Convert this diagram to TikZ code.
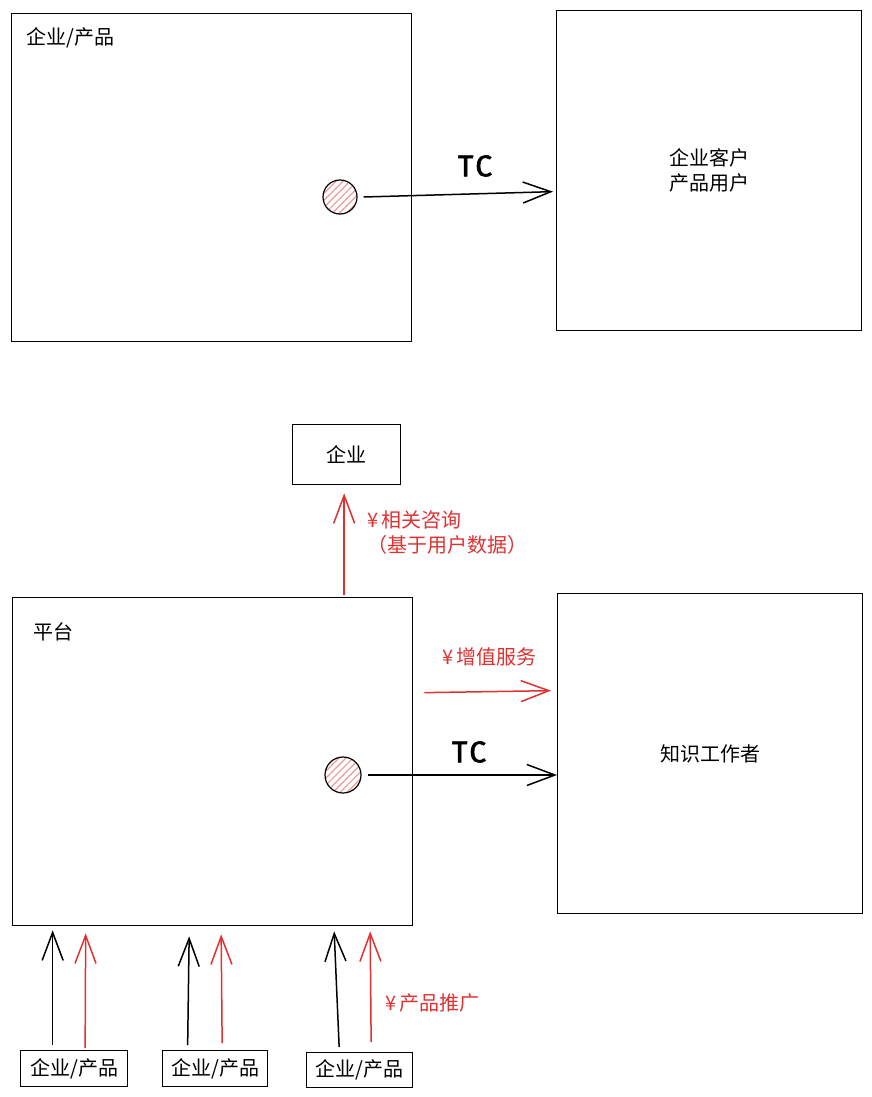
\documentclass[tikz,border=0pt]{standalone}
\usepackage{fontspec}
\setmainfont{Noto Sans CJK SC}
\newfontfamily\tcfont[LetterSpace=10]{Fira Sans}
\usetikzlibrary{arrows.meta,patterns.meta}
\definecolor{xred}{HTML}{E03131}
\begin{document}
\begin{tikzpicture}[x=1pt,y=-1pt,
  box/.style={draw, line width=1.3pt, inner sep=0pt, anchor=north west},
  txt/.style={font=\fontsize{20}{25}\selectfont, inner sep=0pt},
  rtxt/.style={txt, text=xred},
  tctxt/.style={font=\tcfont\fontsize{30}{30}\selectfont\mdseries, inner sep=0pt},
  dot/.style={circle, draw, line width=1.2pt, minimum size=34pt, inner sep=0pt,
    pattern={Lines[angle=45,distance=5pt,line width=1.2pt]}, pattern color=xred!50},
  ar/.style={line width=1.5pt, -{Straight Barb[length=28pt,width=21pt,line width=1.5pt]}},
  rar/.style={ar, color=xred}]
\useasboundingbox (0,0) rectangle (872,1097);

% upper part
\node[box, minimum width=400pt, minimum height=328pt] (b1) at (11,13) {};
\node[txt, anchor=west] (l1) at (26,38) {企业/产品};
\node[box, minimum width=305pt, minimum height=320pt] (b2) at (556,10) {};
\node[txt, align=center] (l2) at (b2.center) {企业客户\\产品用户};
\node[dot] (c1) at (340,197) {};
\draw[ar] ([xshift=6pt]c1.east) -- ([xshift=-3pt,yshift=-21pt]b2.west);
\node[tctxt] (tc1) at (475,166) {\addfontfeature{FakeBold=2}TC};

% lower part
\node[box, minimum width=108pt, minimum height=60pt] (qy) at (292,424) {};
\node[txt] (lqy) at (qy.center) {企业};
\node[box, minimum width=400pt, minimum height=328pt] (pf) at (12,597) {};
\node[txt, anchor=west] (lpf) at (33,632) {平台};
\node[box, minimum width=305pt, minimum height=320pt] (kw) at (557,593) {};
\node[txt] (lkw) at (kw.center) {知识工作者};

\draw[rar] ([xshift=131.5pt,yshift=2pt]pf.north) -- ([xshift=-2.5pt,yshift=-8pt]qy.south);
\node[rtxt, anchor=north west, align=left] (lzx) at (367,510) {¥\,相关咨询\\（基于用户数据）};

\draw[rar] ([xshift=11pt,yshift=69pt]pf.east) -- ([xshift=-6pt,yshift=63pt]kw.west);
\node[rtxt, anchor=west] (lzz) at (442,657) {¥\,增值服务};

\node[dot, minimum size=36pt] (c2) at (343,775) {};
\draw[ar] ([xshift=6pt]c2.east) -- (c2.east -| kw.west);
\node[tctxt] (tc2) at (469,752) {\addfontfeature{FakeBold=2}TC};

% bottom boxes
\node[box, minimum width=107pt, minimum height=36pt] (bb1) at (20,1050) {};
\node[txt] (lb1) at (bb1.center) {企业/产品};
\node[box, minimum width=105pt, minimum height=36pt] (bb2) at (162,1050) {};
\node[txt] (lb2) at (bb2.center) {企业/产品};
\node[box, minimum width=106pt, minimum height=35pt] (bb3) at (306,1052) {};
\node[txt] (lb3) at (bb3.center) {企业/产品};

\draw[ar]  ([xshift=-21.5pt,yshift=5pt]bb1.north) -- ([xshift=-21.5pt,yshift=-4pt]bb1.north |- pf.south);
\draw[rar] ([xshift=11pt,yshift=2pt]bb1.north) -- ([xshift=11.5pt,yshift=-7pt]bb1.north |- pf.south);
\draw[ar]  ([xshift=-27.5pt,yshift=5pt]bb2.north) -- ([xshift=-26pt,yshift=-10pt]bb2.north |- pf.south);
\draw[rar] ([xshift=7pt,yshift=7pt]bb2.north) -- ([xshift=6pt,yshift=-8pt]bb2.north |- pf.south);
\draw[ar]  ([xshift=-20.5pt,yshift=5pt]bb3.north) -- ([xshift=-25.5pt,yshift=-5pt]bb3.north |- pf.south);
\draw[rar] ([xshift=11.5pt,yshift=10pt]bb3.north) -- ([xshift=10.5pt,yshift=-5pt]bb3.north |- pf.south);
\node[rtxt, anchor=west] (ltg) at (385,1003) {¥\,产品推广};
\end{tikzpicture}
\end{document}
